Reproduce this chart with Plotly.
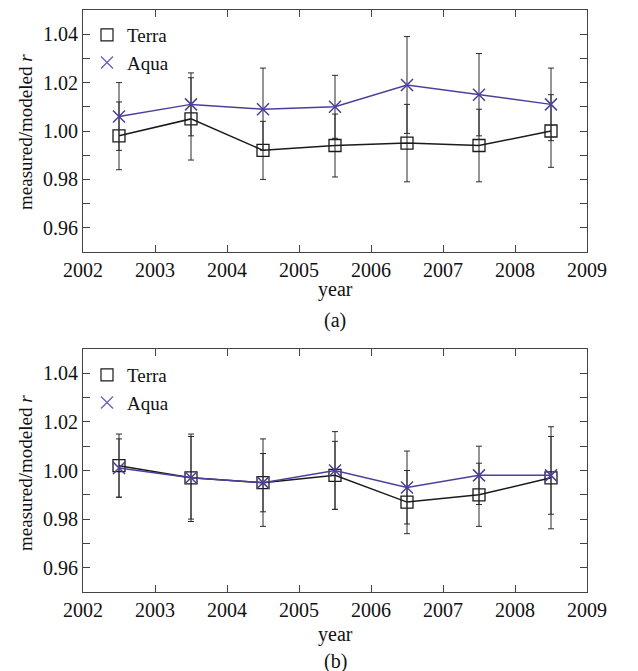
import plotly.graph_objects as go
from plotly.subplots import make_subplots

years = [2002.5, 2003.5, 2004.5, 2005.5, 2006.5, 2007.5, 2008.5]

# panel (a)
terra_a = [0.998, 1.005, 0.992, 0.994, 0.995, 0.994, 1.000]
terra_a_err = [0.014, 0.017, 0.012, 0.013, 0.016, 0.015, 0.015]
aqua_a = [1.006, 1.011, 1.009, 1.010, 1.019, 1.015, 1.011]
aqua_a_err = [0.014, 0.013, 0.017, 0.013, 0.020, 0.017, 0.015]

# panel (b)
terra_b = [1.002, 0.997, 0.995, 0.998, 0.987, 0.990, 0.997]
terra_b_err = [0.013, 0.018, 0.018, 0.014, 0.013, 0.013, 0.021]
aqua_b = [1.001, 0.997, 0.995, 1.000, 0.993, 0.998, 0.998]
aqua_b_err = [0.012, 0.017, 0.012, 0.016, 0.015, 0.012, 0.016]

x_ticks = [2002, 2003, 2004, 2005, 2006, 2007, 2008, 2009]
y_ticks = [0.96, 0.98, 1.00, 1.02, 1.04]

FONT = "Liberation Serif"
FS = 20
TERRA_C = "#1a1a1a"
AQUA_C = "#4b3f9e"
ERR_C = "#2a2a2a"
TXT_C = "#111111"

W, H = 638, 671
ML, MR, MT, MB = 83, 51, 10, 79
ph = H - MT - MB

def py(pix):
    return (H - MB - pix) / ph

def px(pix):
    return (pix - ML) / (W - ML - MR)

fig = make_subplots(rows=2, cols=1, vertical_spacing=0.0)

panels = [(1, terra_a, terra_a_err, aqua_a, aqua_a_err, "legend"),
          (2, terra_b, terra_b_err, aqua_b, aqua_b_err, "legend2")]

for row, t, te, a, ae, lg in panels:
    fig.add_trace(go.Scatter(
        x=years, y=t, mode="lines+markers", showlegend=False,
        line=dict(color=TERRA_C, width=1.5),
        marker=dict(symbol="square-open", size=12, color=TERRA_C, line=dict(width=1.3)),
        error_y=dict(type="data", array=te, color=ERR_C, thickness=1, width=3),
    ), row=row, col=1)
    fig.add_trace(go.Scatter(
        x=years, y=a, mode="lines+markers", showlegend=False,
        line=dict(color=AQUA_C, width=1.5),
        marker=dict(symbol="x-thin-open", size=12, color=AQUA_C, line=dict(width=1.5, color=AQUA_C)),
        error_y=dict(type="data", array=ae, color=ERR_C, thickness=1, width=3),
    ), row=row, col=1)
    fig.add_trace(go.Scatter(
        x=[None], y=[None], mode="markers", name="Terra", legend=lg,
        marker=dict(symbol="square-open", size=12, color=TERRA_C, line=dict(width=1.2)),
    ), row=row, col=1)
    fig.add_trace(go.Scatter(
        x=[None], y=[None], mode="markers", name="Aqua", legend=lg,
        marker=dict(symbol="x-thin-open", size=12, color="#6a5fb5", line=dict(width=1.3, color="#6a5fb5")),
    ), row=row, col=1)

axis_common = dict(
    showline=True, linecolor="#444", linewidth=1, mirror="ticks",
    ticks="inside", ticklen=7, tickcolor="#444", showgrid=False, zeroline=False,
    tickfont=dict(family=FONT, size=FS, color=TXT_C),
)

top_dom = [py(252), 1.0]
bot_dom = [0.0, py(349)]

fig.update_xaxes(range=[2002, 2009], tickvals=x_ticks, **axis_common)
fig.update_yaxes(range=[0.95, 1.05], tickvals=y_ticks, tickformat=".2f",
                 minor=dict(dtick=0.01, ticks="inside", ticklen=7, tickcolor="#444", tick0=0.95),
                 **axis_common)
fig.update_yaxes(domain=top_dom, row=1, col=1)
fig.update_yaxes(domain=bot_dom, row=2, col=1)

annots = []
for yc, ttl_y, lab_y, lab in [(132, 289, 320, "(a)"), (473, 634, 661, "(b)")]:
    annots.append(dict(x=0.5, y=py(ttl_y), xref="paper", yref="paper", text="year",
                       showarrow=False, xanchor="center", yanchor="middle",
                       font=dict(family=FONT, size=FS, color=TXT_C)))
    annots.append(dict(x=0.5, y=py(lab_y), xref="paper", yref="paper", text=lab,
                       showarrow=False, xanchor="center", yanchor="middle",
                       font=dict(family=FONT, size=FS, color=TXT_C)))
    annots.append(dict(x=px(25), y=py(yc), xref="paper", yref="paper",
                       text="measured/modeled <i>r</i>", textangle=-90,
                       showarrow=False, xanchor="center", yanchor="middle",
                       font=dict(family=FONT, size=19, color=TXT_C)))

leg_common = dict(font=dict(family=FONT, size=19, color=TXT_C), bgcolor="rgba(0,0,0,0)",
                  xanchor="left", yanchor="top", itemwidth=30, tracegroupgap=0)

fig.update_layout(
    width=W, height=H,
    margin=dict(l=ML, r=MR, t=MT, b=MB),
    plot_bgcolor="white", paper_bgcolor="white",
    annotations=annots,
    legend=dict(x=px(87), y=py(16), **leg_common),
    legend2=dict(x=px(87), y=py(356), **leg_common),
)

fig.write_html("out.html")
